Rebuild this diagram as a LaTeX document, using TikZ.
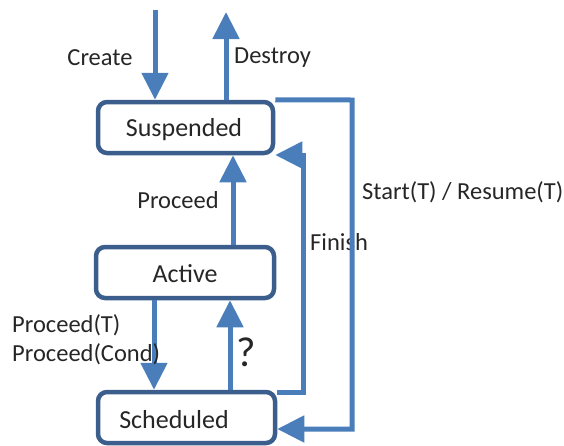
\documentclass[tikz,border=0pt]{standalone}
\usepackage{fontspec}
\setmainfont{Carlito}
\usetikzlibrary{arrows.meta}
\definecolor{flow}{HTML}{4A7EBB}
\definecolor{frame}{HTML}{3B5E8C}
\definecolor{ink}{HTML}{262626}
\tikzset{
  x=1pt, y=-1pt,
  state/.style={draw=frame, line width=4.5pt, rounded corners=9pt, fill=white,
    minimum width=#1, minimum height=51pt, inner sep=0pt},
  statetext/.style={text=ink, font=\fontsize{26}{30}\selectfont},
  lbl/.style={text=ink, font=\fontsize{24.5}{28}\selectfont, inner sep=0pt},
  arr/.style={draw=flow, line width=5pt,
    -{Triangle[length=27pt,width=26pt]}},
}
\begin{document}
\begin{tikzpicture}
\useasboundingbox (0,0) rectangle (564,445);

% states
\node[state=175pt] (susp) at (185.5,127.5) {};
\node[statetext] (susptxt) at (184,130) {Suspended};
\node[state=178pt] (act) at (185,272.5) {};
\node[statetext] (acttxt) at (185,274) {Active};
\node[state=177pt] (sched) at (186.5,417.5) {};
\node[statetext] (schedtxt) at (174,420) {Scheduled};

% this label sits under the start/resume line
\node[lbl, anchor=west] (lfinish) at (310,242) {Finish};

% create / destroy
\coordinate (createtop) at (155,10);
\coordinate (destroytop) at (226,12);
\draw[arr] (createtop) -- (createtop |- susp.north);
\draw[arr] (destroytop |- susp.north) -- (destroytop);

% between states
\draw[arr] (act.north -| 233,0) -- (susp.south -| 233,0);
\draw[arr] (act.south -| 154,0) -- (sched.north -| 154,0);
\draw[arr] (sched.north -| 230,0) -- (act.south -| 230,0);

% finish: scheduled back to suspended
\coordinate (f1) at (303,392);
\coordinate (f2) at (303,155);
\draw[arr] (sched.east |- f1) -- (f1) -- (f2) -- (susp.east |- f2);

% start / resume: suspended to scheduled
\coordinate (s1) at (352,100);
\coordinate (s2) at (352,429);
\draw[arr] (susp.north east) -- (s1) -- (s2) -- (sched.east |- s2);

% transition labels
\node[lbl] (lcreate) at (100,58) {Create};
\node[lbl, anchor=west] (ldestroy) at (234,58) {Destroy};
\node[lbl] (lproceed) at (178,200) {Proceed};
\node[lbl, anchor=west] (lpt) at (12,325) {Proceed(T)};
\node[lbl, anchor=west] (lpc) at (12,354) {Proceed(Cond)};
\node[text=ink, font=\fontsize{42}{46}\selectfont, inner sep=0pt] (lq) at (246,352) {?};
\node[lbl, anchor=west] (lstart) at (362,192) {Start(T) / Resume(T)};
\end{tikzpicture}
\end{document}
